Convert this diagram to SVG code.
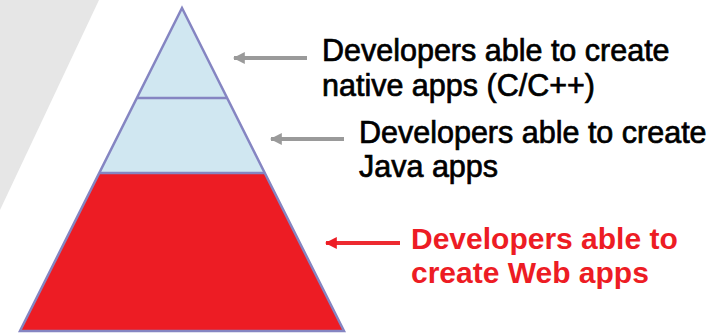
<svg xmlns="http://www.w3.org/2000/svg" width="719" height="334" viewBox="0 0 719 334">
<style>
.tier-blue{fill:#d0e7f1;}
.tier-red{fill:#ed1c24;}
.edge{fill:none;stroke:#8585c2;stroke-width:2.5;stroke-linejoin:miter;}
.lbl{font-family:"Liberation Sans",Arial,sans-serif;font-size:30.5px;fill:#000;stroke:#000;stroke-width:0.7px;}
.lbl-red{font-family:"Liberation Sans",Arial,sans-serif;font-size:30px;font-weight:bold;fill:#ed1c24;}
.arr-gray{stroke:#9a9a9a;stroke-width:4;fill:none;}
.arr-red{stroke:#ed2a30;stroke-width:4;fill:none;}
</style>
<defs>
<marker id="headGray" viewBox="0 0 10 10" refX="9" refY="5" markerUnits="userSpaceOnUse" markerWidth="12" markerHeight="12" orient="auto">
<path d="M0,0 L10,5 L0,10 z" fill="#9a9a9a"/>
</marker>
<marker id="headRed" viewBox="0 0 10 10" refX="9" refY="5" markerUnits="userSpaceOnUse" markerWidth="12" markerHeight="12" orient="auto">
<path d="M0,0 L10,5 L0,10 z" fill="#ed1c24"/>
</marker>
</defs>
<rect width="719" height="334" fill="#fff"/>
<polygon points="0,0 99,0 0,210" fill="#e6e6e6"/>
<g id="tier-native">
<polygon class="tier-blue" points="182,8 136.9,98 227.1,98"/>
</g>
<g id="tier-java">
<polygon class="tier-blue" points="136.9,98 227.1,98 264.7,173 99.3,173"/>
</g>
<g id="tier-web">
<polygon class="tier-red" points="99.3,173 264.7,173 344,331 20,331"/>
</g>
<g id="pyramid-outline">
<polygon class="edge" points="182,8 344,331 20,331"/>
<line class="edge" x1="136.9" y1="98" x2="227.1" y2="98"/>
<line class="edge" x1="99.3" y1="173" x2="264.7" y2="173"/>
</g>
<g id="connectors">
<line class="arr-gray" x1="307" y1="58" x2="234" y2="58" marker-end="url(#headGray)"/>
<line class="arr-gray" x1="344" y1="139" x2="271" y2="139" marker-end="url(#headGray)"/>
<line class="arr-red" x1="400" y1="243" x2="326" y2="243" marker-end="url(#headRed)"/>
</g>
<g id="label-native">
<text class="lbl" x="322" y="61">Developers able to create</text>
<text class="lbl" x="322" y="96">native apps (C/C++)</text>
</g>
<g id="label-java">
<text class="lbl" x="359" y="143">Developers able to create</text>
<text class="lbl" x="359" y="177">Java apps</text>
</g>
<g id="label-web">
<text class="lbl-red" x="411" y="249">Developers able to</text>
<text class="lbl-red" x="411" y="283">create Web apps</text>
</g>
</svg>
